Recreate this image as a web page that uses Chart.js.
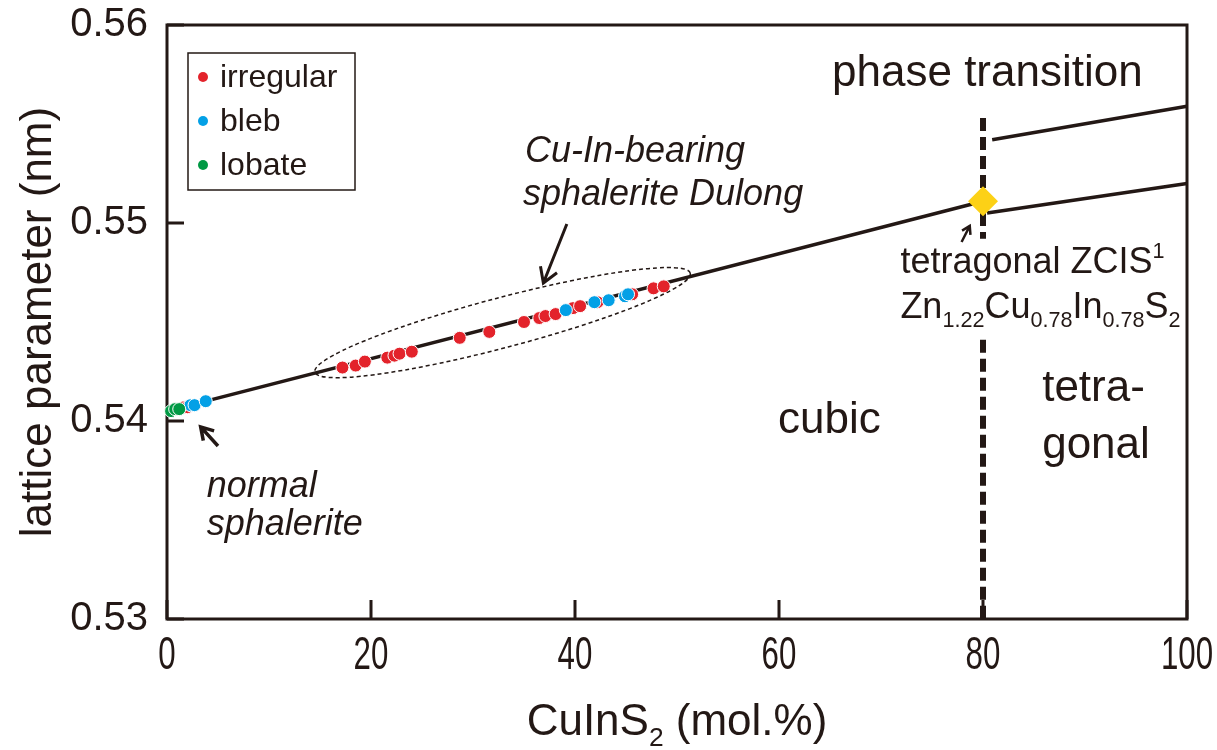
<!DOCTYPE html>
<html lang="en">
<head>
<meta charset="UTF-8">
<title>Lattice parameter vs CuInS2</title>
<script src="https://cdn.jsdelivr.net/npm/chart.js"></script>
<style>
  body { margin: 0; background: #ffffff; }
  #wrap { width: 1217px; height: 750px; }
</style>
</head>
<body>
<div id="wrap"><canvas id="latticeChart"></canvas></div>
<script>
// CuInS2 content (mol.%) and lattice parameter (nm) of the analysed sphalerite grains
const irregularX = [1.7, 2.0, 17.2, 18.5, 19.4, 21.6, 22.3, 22.8, 24.0, 28.7, 31.6, 35.0, 36.5, 37.1, 38.1, 39.8, 40.5, 42.2, 45.6, 47.7, 48.7];
const irregularY = [0.5407, 0.5407, 0.5427, 0.5428, 0.5430, 0.5432, 0.5433, 0.5434, 0.5435, 0.5442, 0.5445, 0.5450, 0.5452, 0.5453, 0.5454, 0.5457, 0.5458, 0.5460, 0.5464, 0.5467, 0.5468];
const blebX = [2.3, 2.7, 3.8, 39.1, 41.9, 43.3, 44.9, 45.2];
const blebY = [0.5408, 0.5408, 0.5410, 0.5456, 0.5460, 0.5461, 0.5463, 0.5464];
const lobateX = [0.4, 0.8, 1.2];
const lobateY = [0.5405, 0.5406, 0.5406];

// trend lines of the cubic and tetragonal fields
const cubicX = [0, 80];
const cubicY = [0.5405, 0.5511];
const tetraLowX = [80.4, 100];
const tetraLowY = [0.5505, 0.5520];
const tetraHighX = [80.9, 100];
const tetraHighY = [0.5542, 0.5559];

// tetragonal ZCIS end member
const zcisX = [80];
const zcisY = [0.5511];

// cubic / tetragonal boundary, broken where the ZCIS label sits
const boundaryX = [80, 80];
const boundaryUpperY = [0.5553, 0.5492];
const boundaryLowerY = [0.5441, 0.5300];

const xTicks = [0, 20, 40, 60, 80, 100];
const yTicks = [0.53, 0.54, 0.55, 0.56];

const INK = '#231815';
const RED = '#e3232b';
const BLUE = '#03a0e6';
const GREEN = '#009944';
const GOLD = '#fcd116';
const FONT = '"Liberation Sans", Arial, sans-serif';

const pts = (xs, ys) => xs.map((x, i) => ({ x: x, y: ys[i] }));

function lineSet(xs, ys, extra) {
  return Object.assign({
    data: pts(xs, ys),
    showLine: true,
    borderColor: INK,
    borderWidth: 3.5,
    pointRadius: 0,
    pointHoverRadius: 0,
    order: 10,
    clip: false
  }, extra || {});
}

function markerSet(label, xs, ys, color, order) {
  return {
    label: label,
    inLegend: true,
    data: pts(xs, ys),
    backgroundColor: color,
    borderColor: '#ffffff',
    borderWidth: 1,
    pointRadius: 6.5,
    pointHoverRadius: 6.5,
    order: order,
    clip: false
  };
}

// draws a run of text with sub/superscript parts, starting at x on baseline y
function drawRich(ctx, parts, x, y, size, style) {
  let cx = x;
  ctx.textBaseline = 'alphabetic';
  ctx.textAlign = 'left';
  parts.forEach(p => {
    const small = p.sub || p.sup;
    const s = small ? size * 0.6 : size;
    ctx.font = (style || '') + ' ' + s + 'px ' + FONT;
    const dy = p.sub ? size * 0.24 : (p.sup ? -size * 0.42 : 0);
    ctx.fillText(p.t, cx, y + dy);
    cx += ctx.measureText(p.t).width;
  });
}

function arrow(ctx, x0, y0, x1, y1, head, width) {
  const a = Math.atan2(y1 - y0, x1 - x0);
  ctx.lineWidth = width;
  ctx.lineCap = 'butt';
  ctx.beginPath();
  ctx.moveTo(x0, y0);
  ctx.lineTo(x1, y1);
  ctx.moveTo(x1 - head * Math.cos(a - 0.55), y1 - head * Math.sin(a - 0.55));
  ctx.lineTo(x1, y1);
  ctx.lineTo(x1 - head * Math.cos(a + 0.55), y1 - head * Math.sin(a + 0.55));
  ctx.stroke();
}

// annotation text, anchored in data units (left edge, baseline)
const notes = [
  { x: 65.2, y: 0.55692, size: 44, parts: [{ t: 'phase transition' }] },
  { x: 35.1, y: 0.55308, size: 36, style: 'italic', parts: [{ t: 'Cu-In-bearing' }] },
  { x: 34.9, y: 0.55091, size: 36, style: 'italic', parts: [{ t: 'sphalerite Dulong' }] },
  { x: 71.9, y: 0.54747, size: 36, parts: [{ t: 'tetragonal ZCIS' }, { t: '1', sup: true }] },
  { x: 71.9, y: 0.54520, size: 36, parts: [{ t: 'Zn' }, { t: '1.22', sub: true }, { t: 'Cu' }, { t: '0.78', sub: true }, { t: 'In' }, { t: '0.78', sub: true }, { t: 'S' }, { t: '2', sub: true }] },
  { x: 59.9, y: 0.53940, size: 44, parts: [{ t: 'cubic' }] },
  { x: 85.8, y: 0.54100, size: 44, parts: [{ t: 'tetra-' }] },
  { x: 85.8, y: 0.53813, size: 44, parts: [{ t: 'gonal' }] },
  { x: 3.9, y: 0.53616, size: 36, style: 'italic', parts: [{ t: 'normal' }] },
  { x: 3.9, y: 0.53424, size: 36, style: 'italic', parts: [{ t: 'sphalerite' }] }
];

// arrows: tail -> tip in data units
const arrows = [
  { from: [39.2, 0.54995], to: [36.9, 0.54697], head: 17, width: 3 },
  { from: [5.0, 0.53874], to: [3.3, 0.53970], head: 14, width: 3.5 },
  { from: [77.9, 0.54904], to: [78.7, 0.54985], head: 9, width: 2.5 }
];

// dotted envelope around the Dulong analyses (ends in data units)
const envelope = { from: [14.5, 0.54247], to: [51.3, 0.54747], halfWidth: 25 };

// keep the plot frame where it is, whatever the tick labels overhang
function fixBox(s, size) {
  if (s.isHorizontal()) s.height = size; else s.width = size;
  s.paddingLeft = 0;
  s.paddingRight = 0;
  s.paddingTop = 0;
  s.paddingBottom = 0;
}

const figureNotes = {
  id: 'figureNotes',
  beforeDatasetsDraw(chart) {
    const { ctx, chartArea: ca, scales } = chart;
    ctx.save();
    ctx.strokeStyle = INK;
    ctx.lineWidth = 3;
    ctx.strokeRect(ca.left, ca.top, ca.right - ca.left, ca.bottom - ca.top);
    // inward tick marks
    ctx.beginPath();
    yTicks.forEach(v => {
      const py = scales.y.getPixelForValue(v);
      ctx.moveTo(ca.left, py);
      ctx.lineTo(ca.left + 17, py);
    });
    xTicks.forEach(v => {
      const px = scales.x.getPixelForValue(v);
      ctx.moveTo(px, ca.bottom);
      ctx.lineTo(px, ca.bottom - 19);
    });
    ctx.stroke();

    // x tick labels, set in a condensed face
    ctx.fillStyle = INK;
    ctx.font = '46px ' + FONT;
    ctx.textAlign = 'center';
    ctx.textBaseline = 'middle';
    scales.x.ticks.forEach(t => {
      ctx.save();
      ctx.translate(scales.x.getPixelForValue(t.value), ca.bottom + 37);
      ctx.scale(0.68, 1);
      ctx.fillText(String(t.value), 0, 0);
      ctx.restore();
    });
    ctx.restore();
  },
  afterDatasetsDraw(chart) {
    const { ctx, chartArea: ca, scales } = chart;
    const X = v => scales.x.getPixelForValue(v);
    const Y = v => scales.y.getPixelForValue(v);
    ctx.save();
    ctx.fillStyle = INK;
    ctx.strokeStyle = INK;

    // envelope
    const ex0 = X(envelope.from[0]), ey0 = Y(envelope.from[1]);
    const ex1 = X(envelope.to[0]), ey1 = Y(envelope.to[1]);
    ctx.beginPath();
    ctx.setLineDash([4, 3]);
    ctx.lineWidth = 1.5;
    ctx.ellipse((ex0 + ex1) / 2, (ey0 + ey1) / 2, Math.hypot(ex1 - ex0, ey1 - ey0) / 2,
      envelope.halfWidth, Math.atan2(ey1 - ey0, ex1 - ex0), 0, Math.PI * 2);
    ctx.stroke();
    ctx.setLineDash([]);

    arrows.forEach(a => arrow(ctx, X(a.from[0]), Y(a.from[1]), X(a.to[0]), Y(a.to[1]), a.head, a.width));

    notes.forEach(n => drawRich(ctx, n.parts, X(n.x), Y(n.y), n.size, n.style));

    // x axis title
    const parts = [{ t: 'CuInS' }, { t: '2', sub: true }, { t: ' (mol.%)' }];
    let w = 0;
    parts.forEach(p => {
      ctx.font = (p.sub ? 44 * 0.6 : 44) + 'px ' + FONT;
      w += ctx.measureText(p.t).width;
    });
    drawRich(ctx, parts, (ca.left + ca.right) / 2 - w / 2, ca.bottom + 116, 44);

    // legend
    const lx = ca.left + 21, ly = ca.top + 28;
    ctx.lineWidth = 1.5;
    ctx.strokeRect(lx, ly, 167, 137);
    const items = chart.data.datasets.filter(d => d.inLegend);
    items.forEach((d, i) => {
      const cy = ly + 24 + i * 44;
      ctx.beginPath();
      ctx.fillStyle = d.backgroundColor;
      ctx.arc(lx + 15, cy, 5, 0, Math.PI * 2);
      ctx.fill();
      ctx.fillStyle = INK;
      ctx.font = '32px ' + FONT;
      ctx.textBaseline = 'middle';
      ctx.textAlign = 'left';
      ctx.fillText(d.label, lx + 32, cy + 1);
    });
    ctx.restore();
  }
};

new Chart(document.getElementById('latticeChart'), {
  type: 'scatter',
  data: {
    datasets: [
      markerSet('irregular', irregularX, irregularY, RED, 3),
      markerSet('bleb', blebX, blebY, BLUE, 2),
      markerSet('lobate', lobateX, lobateY, GREEN, 1),
      lineSet(cubicX, cubicY),
      lineSet(tetraLowX, tetraLowY),
      lineSet(tetraHighX, tetraHighY),
      lineSet(boundaryX, boundaryUpperY, { borderWidth: 6, borderDash: [13, 6] }),
      lineSet(boundaryX, boundaryLowerY, { borderWidth: 6, borderDash: [13, 6] }),
      {
        data: pts(zcisX, zcisY),
        pointStyle: 'rectRot',
        pointRadius: 15,
        pointHoverRadius: 15,
        backgroundColor: GOLD,
        borderWidth: 0,
        order: 0,
        clip: false
      }
    ]
  },
  options: {
    responsive: true,
    maintainAspectRatio: false,
    animation: false,
    devicePixelRatio: 1,
    layout: { padding: { top: 25, right: 30, left: 0, bottom: 0 } },
    plugins: {
      legend: { display: false },
      tooltip: { enabled: false }
    },
    scales: {
      x: {
        type: 'linear',
        min: 0,
        max: 100,
        afterFit: s => fixBox(s, 131),
        afterBuildTicks: s => { s.ticks = xTicks.map(v => ({ value: v })); },
        grid: { display: false, drawTicks: false },
        border: { display: false },
        ticks: { display: false }
      },
      y: {
        type: 'linear',
        min: 0.53,
        max: 0.56,
        afterFit: s => fixBox(s, 167),
        afterBuildTicks: s => { s.ticks = yTicks.map(v => ({ value: v })); },
        grid: { display: false, drawTicks: false },
        border: { display: false },
        ticks: {
          padding: 19,
          color: INK,
          font: { family: FONT, size: 40 },
          callback: v => v.toFixed(2)
        },
        title: {
          display: true,
          text: 'lattice parameter (nm)',
          color: INK,
          font: { family: FONT, size: 44, lineHeight: 1.6 }
        }
      }
    }
  },
  plugins: [figureNotes]
});
</script>
</body>
</html>
